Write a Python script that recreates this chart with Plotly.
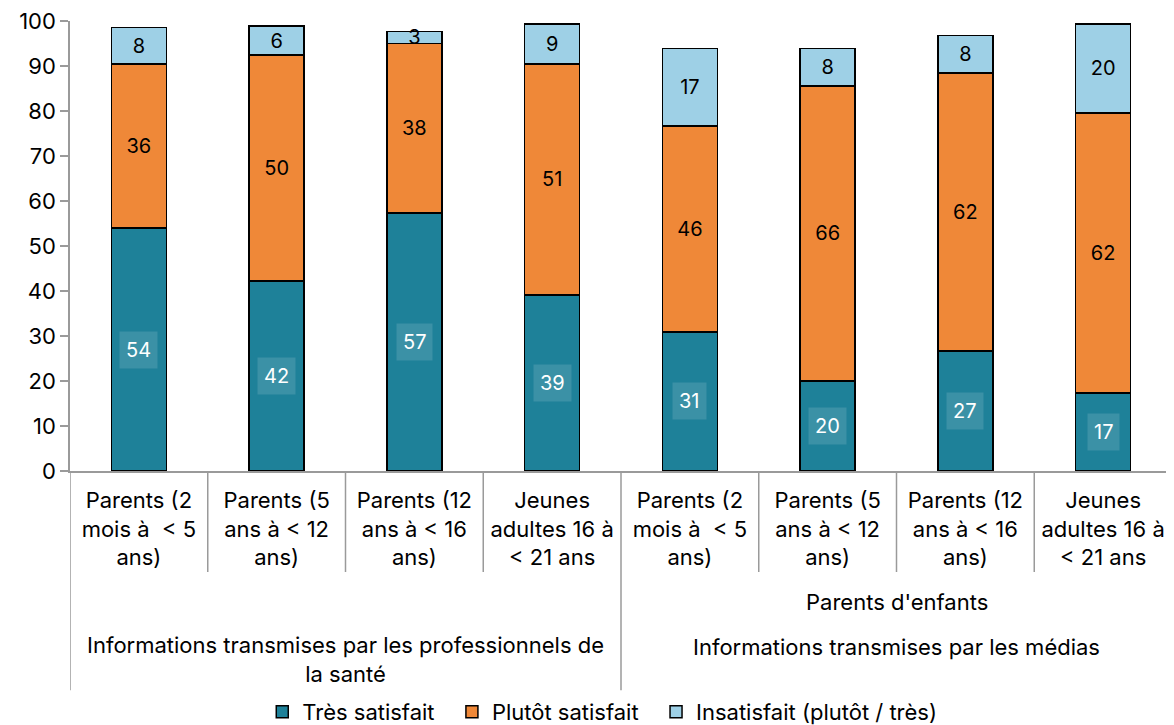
import plotly.graph_objects as go

categories = [
    "Parents (2<br>mois à  < 5<br>ans)",
    "Parents (5<br>ans à < 12<br>ans)",
    "Parents (12<br>ans à < 16<br>ans)",
    "Jeunes<br>adultes 16 à<br>< 21 ans",
    "Parents (2<br>mois à  < 5<br>ans)",
    "Parents (5<br>ans à < 12<br>ans)",
    "Parents (12<br>ans à < 16<br>ans)",
    "Jeunes<br>adultes 16 à<br>< 21 ans",
]
tres_satisfait = [54.0, 42.2, 57.3, 39.1, 30.9, 20.0, 26.7, 17.3]
plutot_satisfait = [36.4, 50.2, 37.7, 51.4, 45.8, 65.6, 61.8, 62.3]
insatisfait = [8.2, 6.5, 2.7, 8.8, 17.2, 8.3, 8.3, 19.7]
tres_labels = [54, 42, 57, 39, 31, 20, 27, 17]
plutot_labels = [36, 50, 38, 51, 46, 66, 62, 62]
insat_labels = [8, 6, 3, 9, 17, 8, 8, 20]
series_names = ["Très satisfait", "Plutôt satisfait", "Insatisfait (plutôt / très)"]
group_labels = ["Informations transmises par les professionnels de<br>la santé",
                "Informations transmises par les médias"]
subgroup_label = "Parents d'enfants"
y_ticks = list(range(0, 101, 10))

FONT = "Inter, Liberation Sans, Arial, sans-serif"
FS = 22
DFS = 20
DARK = "#1E8199"
ORANGE = "#EF8838"
LIGHT = "#9ED0E6"
NB = "\u00a0\u00a0"
x = list(range(len(categories)))

fig = go.Figure()
fig.add_trace(go.Bar(x=x, y=tres_satisfait, name=series_names[0] + NB,
                     marker=dict(color=DARK, line=dict(color="black", width=1.5)),
                     width=0.4))
fig.add_trace(go.Bar(x=x, y=plutot_satisfait, name=series_names[1] + NB,
                     marker=dict(color=ORANGE, line=dict(color="black", width=1.5)),
                     width=0.4, text=[str(v) for v in plutot_labels],
                     textposition="inside", insidetextanchor="middle", textangle=0,
                     textfont=dict(color="black", size=DFS, family=FONT)))
fig.add_trace(go.Bar(x=x, y=insatisfait, name=series_names[2],
                     marker=dict(color=LIGHT, line=dict(color="black", width=1.5)),
                     width=0.4, text=[str(v) for v in insat_labels],
                     textposition="inside", insidetextanchor="middle", textangle=0,
                     textfont=dict(color="black", size=DFS, family=FONT)))

for xi, v, lab in zip(x, tres_satisfait, tres_labels):
    fig.add_annotation(x=xi, y=v / 2, xref="x", yref="y", text=str(lab),
                       showarrow=False, font=dict(color="white", size=DFS, family=FONT),
                       bgcolor="rgba(255,255,255,0.13)", borderpad=6)

# category divider lines
def vline(xpos, y0, y1):
    fig.add_shape(type="line", xref="x", yref="paper", x0=xpos, x1=xpos, y0=y0, y1=y1,
                  line=dict(color="#9a9a9a", width=1.5))

for i in range(7):
    if i == 3:
        continue
    vline(i + 0.5, 0, -0.2244)
for xpos in [-0.5, 3.5, 7.5]:
    vline(xpos, 0, -0.487)

fig.add_annotation(x=1.5, y=-0.419, xref="x", yref="paper", text=group_labels[0],
                   showarrow=False, font=dict(size=FS, color="black", family=FONT),
                   yanchor="middle")
fig.add_annotation(x=5.5, y=-0.391, xref="x", yref="paper", text=group_labels[1],
                   showarrow=False, font=dict(size=FS, color="black", family=FONT),
                   yanchor="middle")
fig.add_annotation(x=5.5, y=-0.291, xref="x", yref="paper", text=subgroup_label,
                   showarrow=False, font=dict(size=FS, color="black", family=FONT),
                   yanchor="middle")

fig.update_layout(
    barmode="stack",
    width=1166, height=717,
    margin=dict(l=62, r=2, t=13, b=254, autoexpand=False),
    plot_bgcolor="white", paper_bgcolor="white",
    font=dict(family=FONT, size=FS, color="black"),
    uniformtext=dict(minsize=DFS, mode="show"),
    showlegend=True,
    legend=dict(orientation="h", x=0.483, xanchor="center", y=-0.5356, yanchor="middle",
                font=dict(size=FS, family=FONT), traceorder="normal",
                itemwidth=30, tracegroupgap=0),
    xaxis=dict(range=[-0.5, 7.5], tickmode="array", tickvals=x, ticktext=categories,
               showline=True, linecolor="#9a9a9a", linewidth=1.5, ticks="",
               ticklabelstandoff=9, automargin=False, ticklabeloverflow="allow",
               showgrid=False, zeroline=False, fixedrange=True,
               tickfont=dict(size=FS, family=FONT)),
    yaxis=dict(range=[0, 100], tickmode="array", tickvals=y_ticks,
               showline=True, linecolor="#9a9a9a", linewidth=1.5, ticks="outside",
               ticklen=8, tickcolor="#9a9a9a", tickwidth=1.5, automargin=False,
               ticklabeloverflow="allow",
               showgrid=False, zeroline=False, tickfont=dict(size=FS, family=FONT)),
)

fig.write_html("out.html")
